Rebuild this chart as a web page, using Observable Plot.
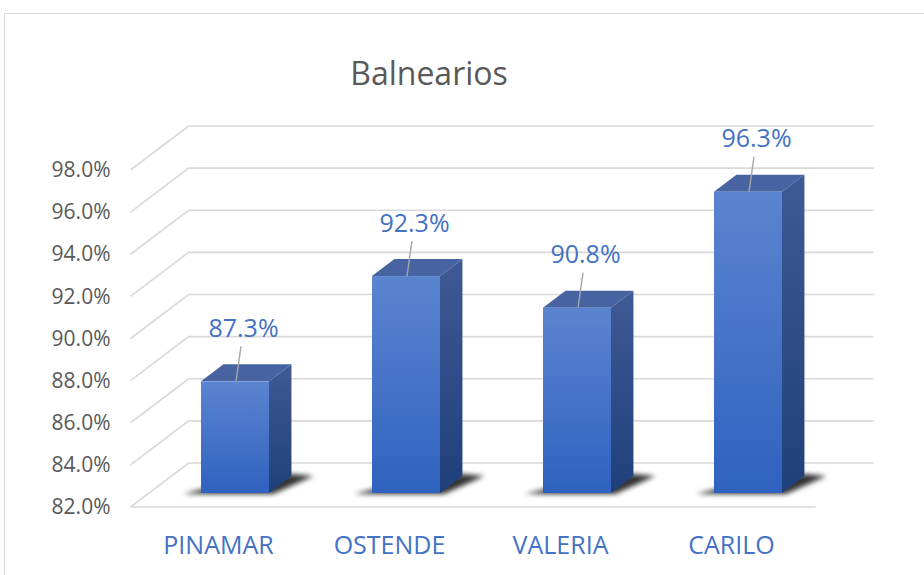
<!DOCTYPE html>
<html><head><meta charset="utf-8">
<script src="https://cdn.jsdelivr.net/npm/d3@7"></script>
<script src="https://cdn.jsdelivr.net/npm/@observablehq/plot@0.6"></script>
<style>
html,body{margin:0;padding:0;background:#fff;overflow:hidden;width:924px;height:575px;}
#wrap{position:relative;width:924px;height:575px;font-family:"Open Sans",sans-serif;}
#frame{position:absolute;left:4px;top:13px;width:1000px;height:1000px;border:1.5px solid #d9d9d9;box-sizing:border-box;}
#title{position:absolute;left:0;width:858px;top:51px;text-align:center;font-size:32px;color:#595959;line-height:44px;}
#chart{position:absolute;left:0;top:0;}
</style></head>
<body><div id="wrap"><div id="frame"></div><div id="title">Balnearios</div><div id="chart"></div></div>
<script>
// ---- data ----
const categories = ["PINAMAR", "OSTENDE", "VALERIA", "CARILO"];
const values = [87.3, 92.3, 90.8, 96.3];
const valueLabels = ["87.3%", "92.3%", "90.8%", "96.3%"];
const yTicks = [82, 84, 86, 88, 90, 92, 94, 96, 98];
const yTickLabels = ["82.0%", "84.0%", "86.0%", "88.0%", "90.0%", "92.0%", "94.0%", "96.0%", "98.0%"];

const data = categories.map((c, i) => ({name: c, value: values[i], label: valueLabels[i]}));
const ticks = yTicks.map((t, i) => ({t, label: yTickLabels[i]}));

// 3D depth geometry (pixel offsets per depth unit)
const KX = 1.32, BAR_D = 17, FRONT_T = 14, BACK_T = 30;
const BASE = yTicks[0];

function defsMark() {
  const defs = d3.create("svg:defs");
  const lg = (id, c0, c1) => {
    const g = defs.append("linearGradient").attr("id", id).attr("x1", 0).attr("y1", 0).attr("x2", 0).attr("y2", 1);
    g.append("stop").attr("offset", "0%").attr("stop-color", c0);
    g.append("stop").attr("offset", "100%").attr("stop-color", c1);
  };
  lg("gFront", "#5b84d0", "#2f62bf");
  lg("gSide", "#3f5a95", "#1f3f7b");
  const f = defs.append("filter").attr("id", "fShadow").attr("x", "-50%").attr("y", "-50%").attr("width", "200%").attr("height", "200%");
  f.append("feGaussianBlur").attr("stdDeviation", 2.5);
  return defs.node();
}

function gridMark(index, scales, values, dims) {
  const y = scales.y;
  const X0 = dims.marginLeft, X1 = dims.width - dims.marginRight;
  const g = d3.create("svg:g").attr("stroke", "#d9d9d9").attr("stroke-width", 1.6).attr("fill", "none");
  for (const v of yTicks) {
    const yy = y(v);
    g.append("path").attr("d", `M${X0 - KX * FRONT_T},${yy + FRONT_T}L${X0 + KX * BACK_T},${yy - BACK_T}H${X1 + KX * BACK_T}`);
  }
  const yb = y(BASE);
  g.append("path").attr("d", `M${X0 - KX * FRONT_T},${yb + FRONT_T}H${X1 - KX * FRONT_T}`);
  return g.node();
}

function shadowMark(index, scales) {
  const {x, y} = scales;
  const bw = x.bandwidth();
  const g = d3.create("svg:g").attr("filter", "url(#fShadow)");
  for (const d of data) {
    const x0 = x(d.name), x1 = x0 + bw, yb = y(BASE);
    const pts = [[x0 - 18, yb + 1], [x1 + 4, yb + 1], [x1 + KX * BAR_D + 22, yb - BAR_D], [x1 + KX * BAR_D, yb - BAR_D - 2], [x0 + 10, yb - 6]];
    g.append("polygon").attr("points", pts.map(p => p.join(",")).join(" ")).attr("fill", "#000").attr("fill-opacity", 0.8);
  }
  return g.node();
}

function facesMark(index, scales) {
  const {x, y} = scales;
  const bw = x.bandwidth();
  const g = d3.create("svg:g");
  for (const d of data) {
    const x0 = x(d.name), x1 = x0 + bw, yt = y(d.value), yb = y(BASE);
    const ox = KX * BAR_D, oy = -BAR_D;
    g.append("polygon")
      .attr("points", [[x1, yt], [x1 + ox, yt + oy], [x1 + ox, yb + oy], [x1, yb]].map(p => p.join(",")).join(" "))
      .attr("fill", "url(#gSide)");
    g.append("polygon")
      .attr("points", [[x0, yt], [x1, yt], [x1 + ox, yt + oy], [x0 + ox, yt + oy]].map(p => p.join(",")).join(" "))
      .attr("fill", "#4863a2");
  }
  return g.node();
}

function leaderMark(index, scales) {
  const {x, y} = scales;
  const bw = x.bandwidth();
  const g = d3.create("svg:g").attr("stroke", "#a6a6a6").attr("stroke-width", 1.4);
  for (const d of data) {
    const cx = x(d.name) + bw / 2, yt = y(d.value);
    g.append("line").attr("x1", cx + 1).attr("y1", yt).attr("x2", cx + 6).attr("y2", yt - 35);
  }
  return g.node();
}

const chart = Plot.plot({
  width: 924,
  height: 575,
  marginLeft: 149,
  marginRight: 90,
  marginTop: 156,
  marginBottom: 82,
  style: {fontFamily: "Open Sans, sans-serif", background: "transparent", overflow: "visible"},
  x: {domain: categories, paddingInner: 0.6, paddingOuter: 0.3, axis: null},
  y: {domain: [82, 98], axis: null},
  marks: [
    defsMark,
    gridMark,
    shadowMark,
    facesMark,
    Plot.barY(data, {x: "name", y1: BASE, y2: "value", fill: "url(#gFront)"}),
    leaderMark,
    Plot.text(data, {x: "name", y: "value", text: "label", dx: 8, dy: -53, fontSize: 25, fill: "#4472c4"}),
    Plot.text(ticks, {y: "t", text: "label", frameAnchor: "left", textAnchor: "end", dx: -39, dy: 14, fontSize: 21, fill: "#595959"}),
    Plot.text(data, {x: "name", text: "name", frameAnchor: "bottom", dx: -17, dy: 60, fontSize: 25, fill: "#4472c4"})
  ]
});
document.getElementById("chart").appendChild(chart);
</script>
</body></html>
